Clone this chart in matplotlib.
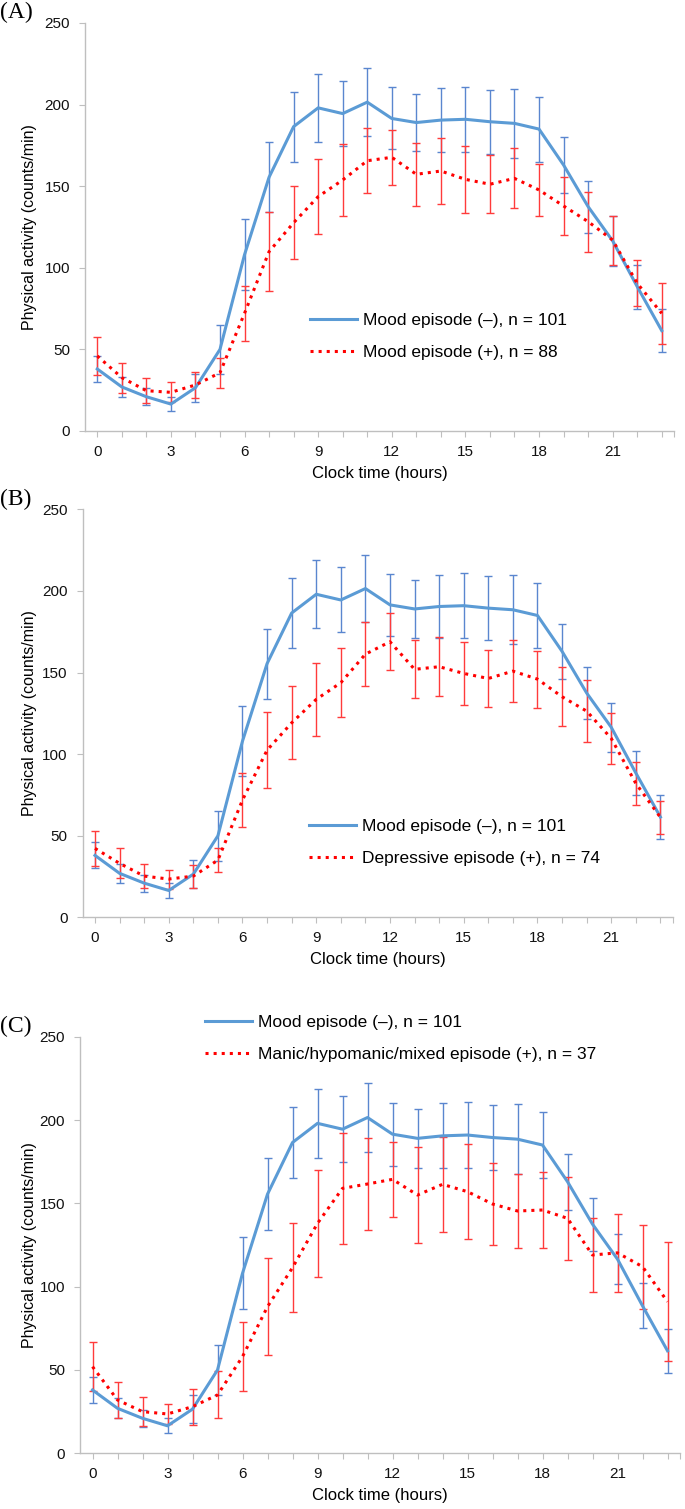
import matplotlib
matplotlib.use('Agg')
import matplotlib.pyplot as plt
from matplotlib.transforms import blended_transform_factory

plt.rcParams['font.family'] = ['Liberation Sans', 'DejaVu Sans']

hours = list(range(24))

# Mood episode (-), n = 101 -- same reference group in all three panels
no_episode_mean = [38, 27, 21, 16.5, 26.5, 50, 108, 155.5, 186.5, 198, 194.5, 201.5,
                   191.5, 189, 190.5, 191, 189.5, 188.5, 185, 163, 137.5, 116.5, 88.5, 61.5]
no_episode_se = [8, 6, 5.2, 4.4, 8.5, 15.2, 21.6, 21.5, 21.4, 20.8, 19.9, 20.7,
                 19, 17.5, 19.5, 20, 19.6, 21, 19.9, 16.9, 15.9, 15.1, 13.5, 13.2]

# (A) Mood episode (+), n = 88
any_episode_mean = [46.0, 32.7, 24.7, 23.7, 28.2, 35.7, 72.1, 109.9, 127.6, 143.6, 153.8, 165.6,
                    167.7, 157.3, 159.3, 154.2, 151.2, 154.8, 147.7, 137.9, 128.3, 117.0, 90.5, 72.1]
any_episode_se = [11.8, 9.2, 7.6, 6.2, 8.0, 9.2, 16.7, 24, 22.5, 22.8, 22, 20,
                  16.9, 19.4, 20.1, 20.7, 17.9, 18.4, 16.2, 17.5, 18.4, 15, 14, 18.7]

# (B) Depressive episode (+), n = 74
dep_episode_mean = [42.3, 33.1, 25.3, 23.5, 25.3, 35.1, 71.9, 102.5, 119.2, 133.6, 143.8, 161.3,
                    168.9, 152.0, 153.6, 149.5, 146.4, 150.9, 146.0, 135.2, 126.4, 109.7, 82.1, 61.3]
dep_episode_se = [10.9, 9.2, 7.4, 5.8, 7.1, 7.2, 16.4, 23.2, 22.4, 22.5, 21.3, 19.4,
                  17.4, 17.7, 18, 19.1, 17.6, 19.2, 17.4, 18, 19.1, 15.6, 13.3, 10.2]

# (C) Manic/hypomanic/mixed episode (+), n = 37
man_episode_mean = [52, 32, 25, 23.6, 28, 35, 58, 88, 111.4, 138, 159, 161.6,
                    164.4, 155, 161.4, 157, 149.6, 145.4, 146, 141, 119, 120.3, 112, 91]
man_episode_se = [14.5, 10.8, 8.5, 6.2, 10.8, 14.1, 20.5, 29, 26.8, 32, 33.2, 27.8,
                  22.5, 29, 28.3, 28.4, 24.7, 22.2, 23, 25, 22.5, 23.5, 25.2, 35.6]

no_label = 'Mood episode (\u2013), n = 101'
panel_labels = ['(A)', '(B)', '(C)']
case_labels = ['Mood episode (+), n = 88',
               'Depressive episode (+), n = 74',
               'Manic/hypomanic/mixed episode (+), n = 37']

W, H = 685, 1509
fig = plt.figure(figsize=(W / 100, H / 100), dpi=100)

BLUE = '#5B9BD5'
BLUE_ERR = '#5A86CF'
RED = '#FF0000'
RED_ERR = '#FF3B3B'
GRID = '#BFBFBF'


def px_axes(left, top, width, height):
    return fig.add_axes([left / W, 1 - (top + height) / H, width / W, height / H])


def draw_panel(ax, case_mean, case_se, case_label, panel_label, legend_xy):
    ax.errorbar(hours, no_episode_mean, yerr=no_episode_se, fmt='none',
                ecolor=BLUE_ERR, elinewidth=1, capsize=3, capthick=1, zorder=2)
    ax.errorbar(hours, case_mean, yerr=case_se, fmt='none',
                ecolor=RED_ERR, elinewidth=1, capsize=3, capthick=1, zorder=3)
    ax.plot(hours, no_episode_mean, color=BLUE, lw=2.2, label=no_label, zorder=4)
    ax.plot(hours, case_mean, color=RED, lw=2.2, ls=':', label=case_label, zorder=5)

    ax.set_xlim(-0.5, 23.5)
    ax.set_ylim(0, 250)
    ax.set_yticks(range(0, 251, 50))
    ax.set_xticks(hours)
    ax.set_xticklabels([str(h) if h % 3 == 0 else '' for h in hours])
    ax.set_xticks([23.5], minor=True)

    for side in ['top', 'right']:
        ax.spines[side].set_visible(False)
    for side in ['left', 'bottom']:
        ax.spines[side].set_color(GRID)
        ax.spines[side].set_linewidth(1)
    ax.tick_params(axis='both', which='both', direction='out', length=4.3, width=0.8,
                   color=GRID, labelsize=11, labelcolor='#111111')
    ax.tick_params(axis='x', pad=5.5)
    ax.tick_params(axis='y', pad=6.5)

    ax.set_ylabel('Physical activity (counts/min)', fontsize=11.5)
    ax.set_xlabel('Clock time (hours)', fontsize=12, va='top')
    ax.yaxis.set_label_coords(37 / W, 0.5,
                              transform=blended_transform_factory(fig.transFigure, ax.transAxes))
    bottom_px = (1 - ax.get_position().y0) * H
    ax.xaxis.set_label_coords(0.5, 1 - (bottom_px + 35) / H,
                              transform=blended_transform_factory(ax.transAxes, fig.transFigure))

    top_px = (1 - ax.get_position().y1) * H
    fig.text(0, 1 - (top_px - 21) / H, panel_label, family='Liberation Serif',
             fontsize=17, ha='left', va='top')

    ax.legend(loc='upper left', bbox_to_anchor=(legend_xy[0] / W, 1 - legend_xy[1] / H),
              bbox_transform=fig.transFigure, frameon=False, fontsize=12.5,
              handlelength=2.7, handletextpad=0.35, labelspacing=0.95, borderpad=0,
              borderaxespad=0)


axes_px = [(85, 23, 589, 408), (82.7, 509.4, 590, 408), (80, 1036.7, 600, 416.6)]
case_means = [any_episode_mean, dep_episode_mean, man_episode_mean]
case_ses = [any_episode_se, dep_episode_se, man_episode_se]
legend_pos = [(310, 313), (309, 819), (205, 1015)]

for i in range(3):
    ax = px_axes(*axes_px[i])
    draw_panel(ax, case_means[i], case_ses[i], case_labels[i], panel_labels[i], legend_pos[i])

fig.savefig('out.png', dpi=100)
